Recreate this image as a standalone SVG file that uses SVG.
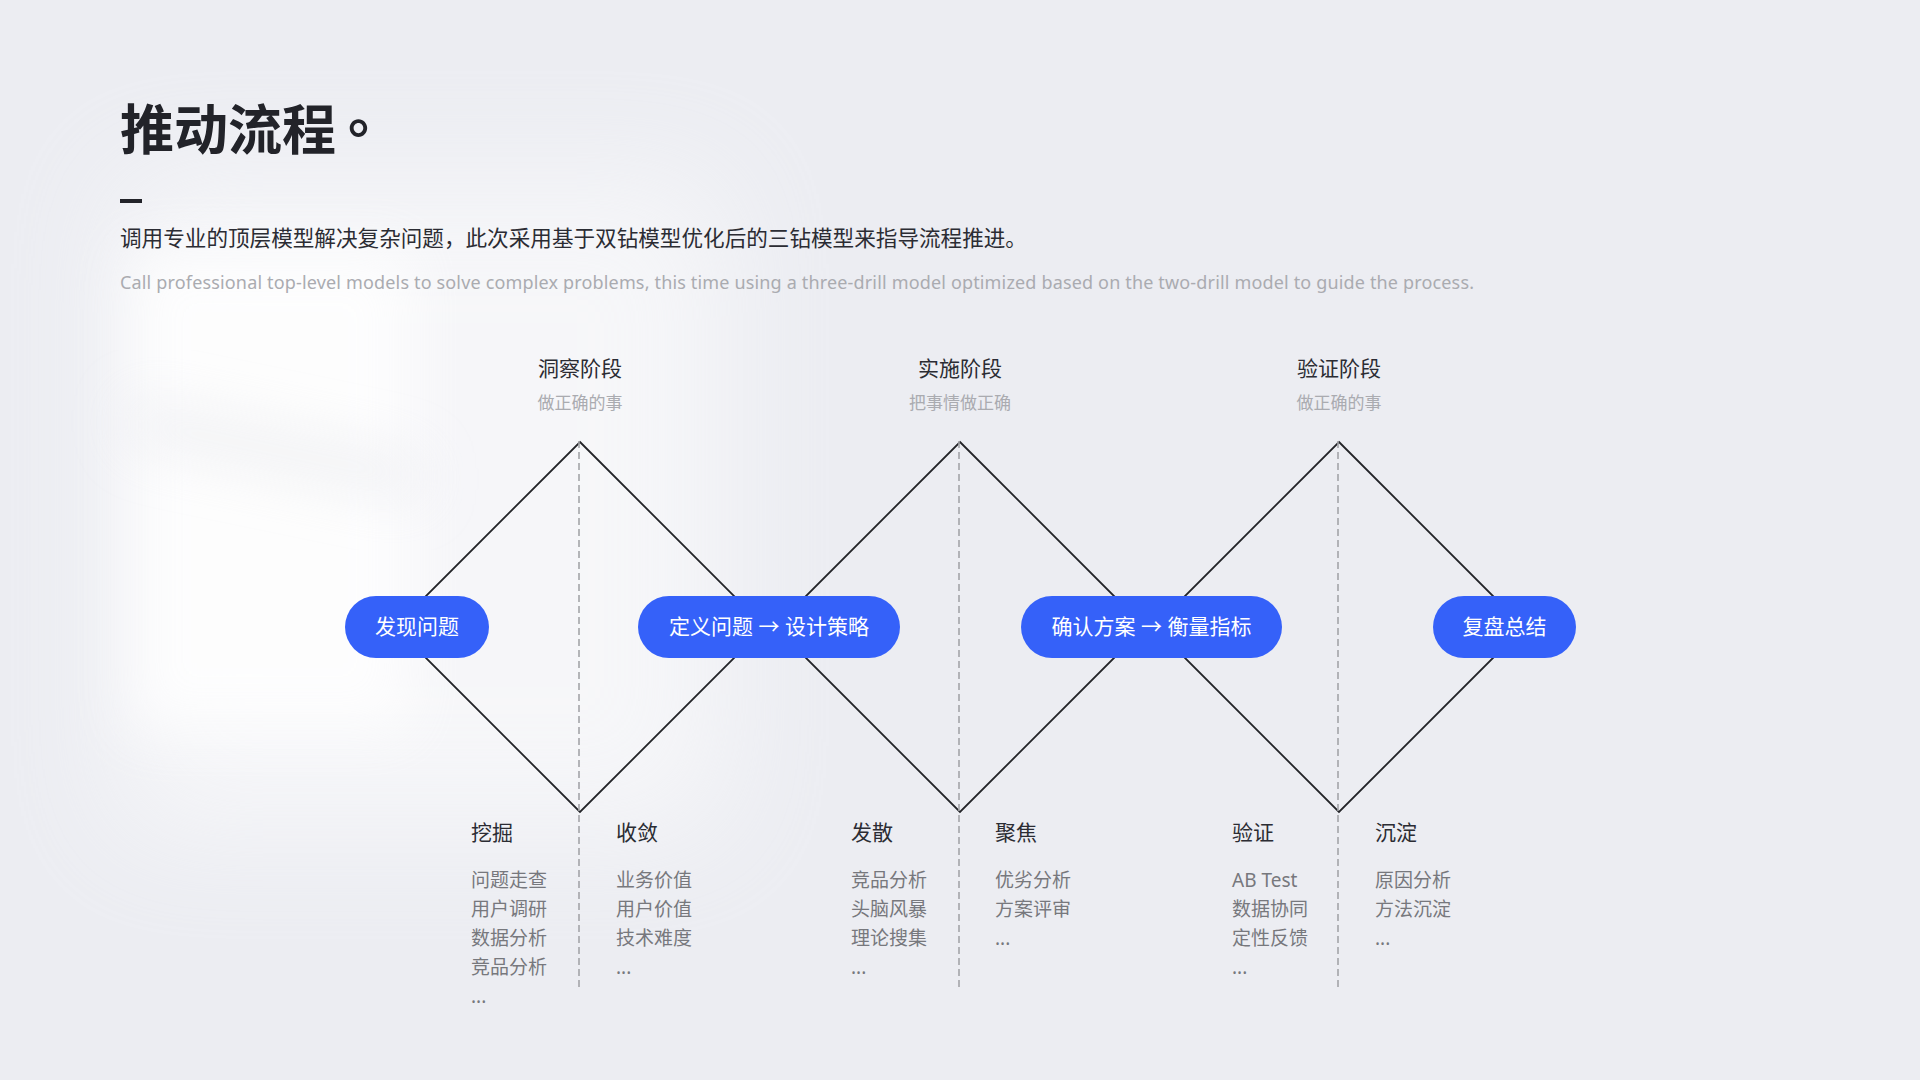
<svg xmlns="http://www.w3.org/2000/svg" width="1920" height="1080" viewBox="0 0 1920 1080">
<defs>
<filter id="blur" x="-50%" y="-50%" width="200%" height="200%"><feGaussianBlur stdDeviation="28"/></filter>
<filter id="blur2" x="-50%" y="-50%" width="200%" height="200%"><feGaussianBlur stdDeviation="60"/></filter>
<style>
text{font-family:"Noto Sans","Noto Sans CJK SC",sans-serif;}
.title{font-size:54px;font-weight:700;fill:#222329;}
.sub{font-size:21.6px;fill:#2b2c33;}
.en{font-size:18px;fill:#aaabb0;}
.stage{font-size:21px;fill:#2b2c33;text-anchor:middle;}
.stagesub{font-size:17px;fill:#aaabb0;text-anchor:middle;}
.lab{font-size:21px;fill:#2b2c33;}
.item{font-size:19px;fill:#77787d;}
.pill rect{fill:#3561f9;}
.pill text{font-size:21px;fill:#ffffff;text-anchor:middle;font-weight:400;}
.dia{fill:none;stroke:#232428;stroke-width:1.8;stroke-linejoin:miter;}
.dash{stroke:#a3a4a8;stroke-width:1.6;stroke-dasharray:7 4;}
</style>
</defs>
<rect width="1920" height="1080" fill="#ecedf2"/>
<g id="glow">
<rect x="120" y="180" width="600" height="650" fill="#ffffff" opacity="0.55" filter="url(#blur2)"/>
<rect x="130" y="250" width="280" height="480" fill="#ffffff" opacity="0.8" filter="url(#blur)"/>
<polygon points="130,400 420,460 420,500 130,440" fill="#e6e7ec" opacity="0.6" filter="url(#blur)"/>
</g>
<g id="header">
<text class="title" x="120" y="150">推动流程</text>
<text class="title" x="348" y="133">。</text>
<rect x="120" y="199" width="22" height="4" fill="#222329"/>
<text class="sub" x="120" y="246">调用专业的顶层模型解决复杂问题，此次采用基于双钻模型优化后的三钻模型来指导流程推进。</text>
<text class="en" x="120" y="289" textLength="1354" lengthAdjust="spacing">Call professional top-level models to solve complex problems, this time using a three-drill model optimized based on the two-drill model to guide the process.</text>
</g>
<g id="connectors">
<polygon class="dia" points="580,442 765,627 580,812 395,627"/>
<polygon class="dia" points="960,442 1145,627 960,812 775,627"/>
<polygon class="dia" points="1339,442 1524,627 1339,812 1154,627"/>
<line class="dash" x1="579" y1="441" x2="579" y2="987"/>
<line class="dash" x1="959" y1="441" x2="959" y2="987"/>
<line class="dash" x1="1338" y1="441" x2="1338" y2="987"/>
</g>
<g id="stage1">
<text class="stage" x="580" y="376">洞察阶段</text>
<text class="stagesub" x="580" y="409">做正确的事</text>
</g>
<g id="stage2">
<text class="stage" x="960" y="376">实施阶段</text>
<text class="stagesub" x="960" y="409">把事情做正确</text>
</g>
<g id="stage3">
<text class="stage" x="1339" y="376">验证阶段</text>
<text class="stagesub" x="1339" y="409">做正确的事</text>
</g>
<g id="pill1" class="pill"><rect x="345" y="596" width="144" height="62" rx="31"/><text x="417" y="634">发现问题</text></g>
<g id="pill2" class="pill"><rect x="638" y="596" width="262" height="62" rx="31"/><text x="769" y="634">定义问题 → 设计策略</text></g>
<g id="pill3" class="pill"><rect x="1021" y="596" width="261" height="62" rx="31"/><text x="1151.5" y="634">确认方案 → 衡量指标</text></g>
<g id="pill4" class="pill"><rect x="1433" y="596" width="143" height="62" rx="31"/><text x="1504.5" y="634">复盘总结</text></g>
<g id="col1">
<text class="lab" x="471" y="840">挖掘</text>
<text class="item" x="471" y="887">问题走查</text>
<text class="item" x="471" y="916">用户调研</text>
<text class="item" x="471" y="945">数据分析</text>
<text class="item" x="471" y="974">竞品分析</text>
<text class="item" x="471" y="1003">...</text>
</g>
<g id="col2">
<text class="lab" x="616" y="840">收敛</text>
<text class="item" x="616" y="887">业务价值</text>
<text class="item" x="616" y="916">用户价值</text>
<text class="item" x="616" y="945">技术难度</text>
<text class="item" x="616" y="974">...</text>
</g>
<g id="col3">
<text class="lab" x="851" y="840">发散</text>
<text class="item" x="851" y="887">竞品分析</text>
<text class="item" x="851" y="916">头脑风暴</text>
<text class="item" x="851" y="945">理论搜集</text>
<text class="item" x="851" y="974">...</text>
</g>
<g id="col4">
<text class="lab" x="995" y="840">聚焦</text>
<text class="item" x="995" y="887">优劣分析</text>
<text class="item" x="995" y="916">方案评审</text>
<text class="item" x="995" y="945">...</text>
</g>
<g id="col5">
<text class="lab" x="1232" y="840">验证</text>
<text class="item" x="1232" y="887">AB Test</text>
<text class="item" x="1232" y="916">数据协同</text>
<text class="item" x="1232" y="945">定性反馈</text>
<text class="item" x="1232" y="974">...</text>
</g>
<g id="col6">
<text class="lab" x="1375" y="840">沉淀</text>
<text class="item" x="1375" y="887">原因分析</text>
<text class="item" x="1375" y="916">方法沉淀</text>
<text class="item" x="1375" y="945">...</text>
</g>
</svg>
